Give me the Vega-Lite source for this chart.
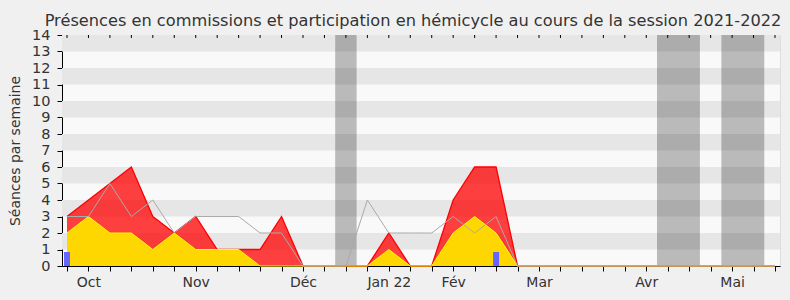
{
  "$schema": "https://vega.github.io/schema/vega-lite/v6.json",
  "width": 718,
  "height": 231,
  "autosize": {"type": "none"},
  "padding": {"left": 62, "top": 35, "right": 10, "bottom": 34},
  "background": "#f0f0f0",
  "title": {
    "text": "Présences en commissions et participation en hémicycle au cours de la session 2021-2022",
    "font": "DejaVu Sans",
    "fontSize": 16.2,
    "fontWeight": "normal",
    "color": "#333333",
    "anchor": "middle",
    "offset": -2,
    "dx": -8
  },
  "config": {
    "view": {"stroke": "#dddddd", "fill": "#f9f9f9"},
    "axis": {"labelFont": "DejaVu Sans", "titleFont": "DejaVu Sans", "labelColor": "#333333", "titleColor": "#333333", "domainColor": "#000000", "tickColor": "#000000", "grid": false}
  },
  "datasets": {
    "weeks": [
      {"w": 0, "total": 3, "hemi": 2, "median": 3},
      {"w": 1, "total": 4, "hemi": 3, "median": 3},
      {"w": 2, "total": 5, "hemi": 2, "median": 5},
      {"w": 3, "total": 6, "hemi": 2, "median": 3},
      {"w": 4, "total": 3, "hemi": 1, "median": 4},
      {"w": 5, "total": 2, "hemi": 2, "median": 2},
      {"w": 6, "total": 3, "hemi": 1, "median": 3},
      {"w": 7, "total": 1, "hemi": 1, "median": 3},
      {"w": 8, "total": 1, "hemi": 1, "median": 3},
      {"w": 9, "total": 1, "hemi": 0, "median": 2},
      {"w": 10, "total": 3, "hemi": 0, "median": 2},
      {"w": 11, "total": 0, "hemi": 0, "median": 0},
      {"w": 12, "total": 0, "hemi": 0, "median": 0},
      {"w": 13, "total": 0, "hemi": 0, "median": 0},
      {"w": 14, "total": 0, "hemi": 0, "median": 4},
      {"w": 15, "total": 2, "hemi": 1, "median": 2},
      {"w": 16, "total": 0, "hemi": 0, "median": 2},
      {"w": 17, "total": 0, "hemi": 0, "median": 2},
      {"w": 18, "total": 4, "hemi": 2, "median": 3},
      {"w": 19, "total": 6, "hemi": 3, "median": 2},
      {"w": 20, "total": 6, "hemi": 2, "median": 3},
      {"w": 21, "total": 0, "hemi": 0, "median": 0},
      {"w": 22, "total": 0, "hemi": 0, "median": 0},
      {"w": 23, "total": 0, "hemi": 0, "median": 0},
      {"w": 24, "total": 0, "hemi": 0, "median": 0},
      {"w": 25, "total": 0, "hemi": 0, "median": 0},
      {"w": 26, "total": 0, "hemi": 0, "median": 0},
      {"w": 27, "total": 0, "hemi": 0, "median": 0},
      {"w": 28, "total": 0, "hemi": 0, "median": 0},
      {"w": 29, "total": 0, "hemi": 0, "median": 0},
      {"w": 30, "total": 0, "hemi": 0, "median": 0},
      {"w": 31, "total": 0, "hemi": 0, "median": 0},
      {"w": 32, "total": 0, "hemi": 0, "median": 0},
      {"w": 33, "total": 0, "hemi": 0, "median": 0}
    ],
    "stripes": [
      {"lo": 1, "hi": 2}, {"lo": 3, "hi": 4}, {"lo": 5, "hi": 6}, {"lo": 7, "hi": 8},
      {"lo": 9, "hi": 10}, {"lo": 11, "hi": 12}, {"lo": 13, "hi": 14}
    ],
    "holidays": [
      {"start": 12.5, "end": 13.5},
      {"start": 27.5, "end": 29.5},
      {"start": 30.5, "end": 32.5}
    ],
    "questions": [
      {"w": 0, "n": 0.85},
      {"w": 20, "n": 0.85}
    ]
  },
  "layer": [
    {
      "data": {"name": "stripes"},
      "mark": {"type": "rect", "color": "#e6e6e6"},
      "encoding": {
        "y": {"field": "lo", "type": "quantitative", "scale": {"domain": [0, 14], "nice": false},
          "axis": {"values": [0,1,2,3,4,5,6,7,8,9,10,11,12,13,14], "labelOverlap": false, "labelFlush": false, "title": "Séances par semaine", "titleFontSize": 14, "titleFontWeight": "normal", "labelFontSize": 14.5, "tickSize": 5, "labelPadding": 7, "titlePadding": 9}},
        "y2": {"field": "hi"}
      }
    },
    {
      "data": {"name": "holidays"},
      "mark": {"type": "rect", "color": "#000000", "opacity": 0.25},
      "encoding": {
        "x": {"field": "start", "type": "quantitative", "scale": {"domain": [0, 33], "nice": false, "zero": false},
          "axis": {"values": [0,1,2,3,4,5,6,7,8,9,10,11,12,13,14,15,16,17,18,19,20,21,22,23,24,25,26,27,28,29,30,31,32,33], "labelExpr": "datum.value == 1 ? 'Oct' : datum.value == 6 ? 'Nov' : datum.value == 11 ? 'Déc' : datum.value == 15 ? 'Jan 22' : datum.value == 18 ? 'Fév' : datum.value == 22 ? 'Mar' : datum.value == 27 ? 'Avr' : datum.value == 31 ? 'Mai' : ''", "title": null, "labelFontSize": 14, "tickSize": 5, "labelPadding": 4, "labelOverlap": false, "labelFlush": false}},
        "x2": {"field": "end"}
      }
    },
    {
      "data": {"name": "weeks"},
      "mark": {"type": "area", "color": "#ff0000", "opacity": 0.75},
      "encoding": {
        "x": {"field": "w", "type": "quantitative",
          "axis": {"values": [0,1,2,3,4,5,6,7,8,9,10,11,12,13,14,15,16,17,18,19,20,21,22,23,24,25,26,27,28,29,30,31,32,33], "labelExpr": "datum.value == 1 ? 'Oct' : datum.value == 6 ? 'Nov' : datum.value == 11 ? 'Déc' : datum.value == 15 ? 'Jan 22' : datum.value == 18 ? 'Fév' : datum.value == 22 ? 'Mar' : datum.value == 27 ? 'Avr' : datum.value == 31 ? 'Mai' : ''", "title": null, "labelFontSize": 14, "tickSize": 5, "labelPadding": 4, "labelOverlap": false, "labelFlush": false}},
        "y": {"field": "total", "type": "quantitative",
          "axis": {"values": [0,1,2,3,4,5,6,7,8,9,10,11,12,13,14], "labelOverlap": false, "labelFlush": false, "title": "Séances par semaine", "titleFontSize": 14, "titleFontWeight": "normal", "labelFontSize": 14.5, "tickSize": 5, "labelPadding": 7, "titlePadding": 9}}
      }
    },
    {
      "data": {"name": "weeks"},
      "mark": {"type": "line", "color": "#ff0000", "strokeWidth": 1.3},
      "encoding": {
        "x": {"field": "w", "type": "quantitative",
          "axis": {"values": [0,1,2,3,4,5,6,7,8,9,10,11,12,13,14,15,16,17,18,19,20,21,22,23,24,25,26,27,28,29,30,31,32,33], "labelExpr": "datum.value == 1 ? 'Oct' : datum.value == 6 ? 'Nov' : datum.value == 11 ? 'Déc' : datum.value == 15 ? 'Jan 22' : datum.value == 18 ? 'Fév' : datum.value == 22 ? 'Mar' : datum.value == 27 ? 'Avr' : datum.value == 31 ? 'Mai' : ''", "title": null, "labelFontSize": 14, "tickSize": 5, "labelPadding": 4, "labelOverlap": false, "labelFlush": false}},
        "y": {"field": "total", "type": "quantitative",
          "axis": {"values": [0,1,2,3,4,5,6,7,8,9,10,11,12,13,14], "labelOverlap": false, "labelFlush": false, "title": "Séances par semaine", "titleFontSize": 14, "titleFontWeight": "normal", "labelFontSize": 14.5, "tickSize": 5, "labelPadding": 7, "titlePadding": 9}}
      }
    },
    {
      "data": {"name": "weeks"},
      "mark": {"type": "area", "color": "#ffd700", "opacity": 1},
      "encoding": {
        "x": {"field": "w", "type": "quantitative",
          "axis": {"values": [0,1,2,3,4,5,6,7,8,9,10,11,12,13,14,15,16,17,18,19,20,21,22,23,24,25,26,27,28,29,30,31,32,33], "labelExpr": "datum.value == 1 ? 'Oct' : datum.value == 6 ? 'Nov' : datum.value == 11 ? 'Déc' : datum.value == 15 ? 'Jan 22' : datum.value == 18 ? 'Fév' : datum.value == 22 ? 'Mar' : datum.value == 27 ? 'Avr' : datum.value == 31 ? 'Mai' : ''", "title": null, "labelFontSize": 14, "tickSize": 5, "labelPadding": 4, "labelOverlap": false, "labelFlush": false}},
        "y": {"field": "hemi", "type": "quantitative",
          "axis": {"values": [0,1,2,3,4,5,6,7,8,9,10,11,12,13,14], "labelOverlap": false, "labelFlush": false, "title": "Séances par semaine", "titleFontSize": 14, "titleFontWeight": "normal", "labelFontSize": 14.5, "tickSize": 5, "labelPadding": 7, "titlePadding": 9}}
      }
    },
    {
      "data": {"name": "weeks"},
      "mark": {"type": "line", "color": "#ffff00", "strokeWidth": 1},
      "encoding": {
        "x": {"field": "w", "type": "quantitative",
          "axis": {"values": [0,1,2,3,4,5,6,7,8,9,10,11,12,13,14,15,16,17,18,19,20,21,22,23,24,25,26,27,28,29,30,31,32,33], "labelExpr": "datum.value == 1 ? 'Oct' : datum.value == 6 ? 'Nov' : datum.value == 11 ? 'Déc' : datum.value == 15 ? 'Jan 22' : datum.value == 18 ? 'Fév' : datum.value == 22 ? 'Mar' : datum.value == 27 ? 'Avr' : datum.value == 31 ? 'Mai' : ''", "title": null, "labelFontSize": 14, "tickSize": 5, "labelPadding": 4, "labelOverlap": false, "labelFlush": false}},
        "y": {"field": "hemi", "type": "quantitative",
          "axis": {"values": [0,1,2,3,4,5,6,7,8,9,10,11,12,13,14], "labelOverlap": false, "labelFlush": false, "title": "Séances par semaine", "titleFontSize": 14, "titleFontWeight": "normal", "labelFontSize": 14.5, "tickSize": 5, "labelPadding": 7, "titlePadding": 9}}
      }
    },
    {
      "data": {"name": "weeks"},
      "mark": {"type": "line", "color": "#aaaaaa", "strokeWidth": 1},
      "encoding": {
        "x": {"field": "w", "type": "quantitative",
          "axis": {"values": [0,1,2,3,4,5,6,7,8,9,10,11,12,13,14,15,16,17,18,19,20,21,22,23,24,25,26,27,28,29,30,31,32,33], "labelExpr": "datum.value == 1 ? 'Oct' : datum.value == 6 ? 'Nov' : datum.value == 11 ? 'Déc' : datum.value == 15 ? 'Jan 22' : datum.value == 18 ? 'Fév' : datum.value == 22 ? 'Mar' : datum.value == 27 ? 'Avr' : datum.value == 31 ? 'Mai' : ''", "title": null, "labelFontSize": 14, "tickSize": 5, "labelPadding": 4, "labelOverlap": false, "labelFlush": false}},
        "y": {"field": "median", "type": "quantitative",
          "axis": {"values": [0,1,2,3,4,5,6,7,8,9,10,11,12,13,14], "labelOverlap": false, "labelFlush": false, "title": "Séances par semaine", "titleFontSize": 14, "titleFontWeight": "normal", "labelFontSize": 14.5, "tickSize": 5, "labelPadding": 7, "titlePadding": 9}}
      }
    },
    {
      "data": {"name": "questions"},
      "mark": {"type": "bar", "color": "#6666ff", "size": 6, "clip": true},
      "encoding": {
        "x": {"field": "w", "type": "quantitative",
          "axis": {"values": [0,1,2,3,4,5,6,7,8,9,10,11,12,13,14,15,16,17,18,19,20,21,22,23,24,25,26,27,28,29,30,31,32,33], "labelExpr": "datum.value == 1 ? 'Oct' : datum.value == 6 ? 'Nov' : datum.value == 11 ? 'Déc' : datum.value == 15 ? 'Jan 22' : datum.value == 18 ? 'Fév' : datum.value == 22 ? 'Mar' : datum.value == 27 ? 'Avr' : datum.value == 31 ? 'Mai' : ''", "title": null, "labelFontSize": 14, "tickSize": 5, "labelPadding": 4, "labelOverlap": false, "labelFlush": false}},
        "y": {"field": "n", "type": "quantitative",
          "axis": {"values": [0,1,2,3,4,5,6,7,8,9,10,11,12,13,14], "labelOverlap": false, "labelFlush": false, "title": "Séances par semaine", "titleFontSize": 14, "titleFontWeight": "normal", "labelFontSize": 14.5, "tickSize": 5, "labelPadding": 7, "titlePadding": 9}}
      }
    },
    {
      "data": {"name": "weeks"},
      "mark": {"type": "rule", "color": "#000000", "strokeWidth": 1},
      "encoding": {
        "x": {"field": "w", "type": "quantitative",
          "axis": {"values": [0,1,2,3,4,5,6,7,8,9,10,11,12,13,14,15,16,17,18,19,20,21,22,23,24,25,26,27,28,29,30,31,32,33], "labelExpr": "datum.value == 1 ? 'Oct' : datum.value == 6 ? 'Nov' : datum.value == 11 ? 'Déc' : datum.value == 15 ? 'Jan 22' : datum.value == 18 ? 'Fév' : datum.value == 22 ? 'Mar' : datum.value == 27 ? 'Avr' : datum.value == 31 ? 'Mai' : ''", "title": null, "labelFontSize": 14, "tickSize": 5, "labelPadding": 4, "labelOverlap": false, "labelFlush": false}},
        "y": {"datum": 14, "type": "quantitative",
          "axis": {"values": [0,1,2,3,4,5,6,7,8,9,10,11,12,13,14], "labelOverlap": false, "labelFlush": false, "title": "Séances par semaine", "titleFontSize": 14, "titleFontWeight": "normal", "labelFontSize": 14.5, "tickSize": 5, "labelPadding": 7, "titlePadding": 9}},
        "y2": {"datum": 13.82}
      }
    }
  ]
}
